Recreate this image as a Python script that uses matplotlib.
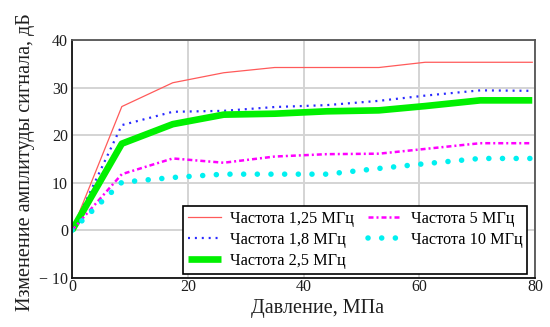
import matplotlib
matplotlib.use("Agg")
import matplotlib.pyplot as plt

# Pressure, MPa
pressure = [0, 8.6, 17.4, 26.2, 35, 44, 53, 61, 70.5, 79.5]

# Change of signal amplitude, dB
amp_125 = [0, 26.0, 31.0, 33.1, 34.2, 34.2, 34.2, 35.3, 35.3, 35.3]
amp_18 = [0, 22.1, 24.9, 25.1, 25.9, 26.3, 27.2, 28.3, 29.4, 29.3]
amp_25 = [0, 18.2, 22.3, 24.3, 24.5, 25.0, 25.2, 26.1, 27.3, 27.3]
amp_5 = [0, 11.8, 15.1, 14.2, 15.5, 16.0, 16.1, 17.1, 18.3, 18.3]
amp_10 = [0, 10.1, 11.1, 11.8, 11.8, 11.8, 13.0, 14.0, 15.1, 15.1]

labels = ["Частота 1,25 МГц", "Частота 1,8 МГц", "Частота 2,5 МГц",
          "Частота 5 МГц", "Частота 10 МГц"]
x_ticks = [0, 20, 40, 60, 80]
y_ticks = [-10, 0, 10, 20, 30, 40]

plt.rcParams["font.family"] = ["Liberation Serif", "DejaVu Serif"]

fig = plt.figure(figsize=(5.5, 3.27), dpi=100)
ax = fig.add_axes([0.131, 0.150, 0.842, 0.728])

ax.plot(pressure, amp_125, color="#ff5a5a", lw=0.9, label=labels[0])
ax.plot(pressure, amp_18, color="#2a2aff", lw=1.6, dashes=(0.9, 2.2),
        label=labels[1])
ax.plot(pressure, amp_25, color="#00f000", lw=4.8, solid_capstyle="butt",
        label=labels[2])
ax.plot(pressure, amp_5, color="#ff00ff", lw=1.8, dashes=(2.0, 1.2, 0.8, 1.2),
        label=labels[3])
ax.plot(pressure, amp_10, color="#00f0f0", lw=4.0, dashes=(0.01, 2.45),
        dash_capstyle="round", label=labels[4])

ax.set_xlim(0, 80)
ax.set_ylim(-10, 40)
ax.set_xticks(x_ticks)
ax.set_yticks(y_ticks)
ax.set_yticklabels(["\u2212 10" if v == -10 else str(v) for v in y_ticks])
ax.tick_params(length=0, labelsize=11.5, colors="#1e1e1e")
ax.tick_params(axis="x", pad=1)
ax.tick_params(axis="y", pad=3)

ax.grid(True, color="#d4d4d4", lw=1.4)
ax.set_axisbelow(True)

for side in ("left", "bottom"):
    ax.spines[side].set_color("#111111")
    ax.spines[side].set_linewidth(1.3)
for side in ("top", "right"):
    ax.spines[side].set_color("#555555")
    ax.spines[side].set_linewidth(1.3)

ax.set_xlabel("Давление, МПа", fontsize=14.5, color="#1e1e1e")
ax.set_ylabel("Изменение амплитуды сигнала, дБ", fontsize=14.5,
              color="#1e1e1e")
ax.xaxis.set_label_coords(0.529, -0.09)
ax.yaxis.set_label_coords(-0.08, 0.485)

leg = ax.legend(ncol=2, loc="lower left",
                bbox_to_anchor=(0.24, 0.017, 0.743, 0.281), mode="expand",
                fontsize=11.7, frameon=True, fancybox=False, framealpha=1,
                edgecolor="black", borderpad=0.3, labelspacing=0.32,
                handlelength=2.0, handletextpad=0.6, columnspacing=1.2,
                borderaxespad=0)
leg.get_frame().set_linewidth(1.2)

fig.savefig("out.png", dpi=100)
